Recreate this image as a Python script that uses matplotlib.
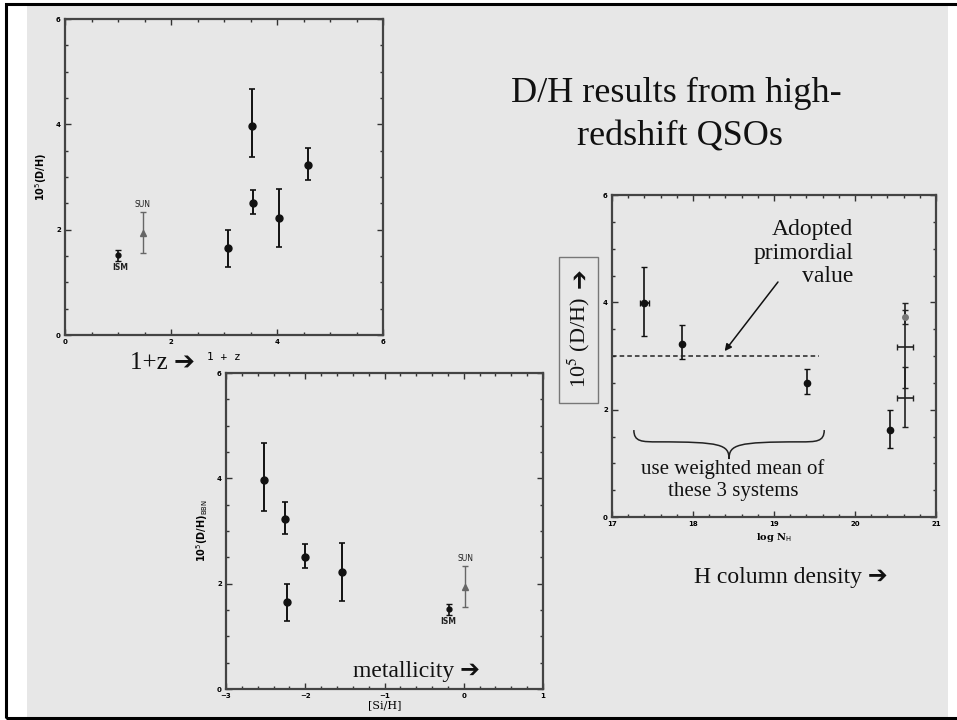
import numpy as np
import matplotlib.pyplot as plt
from matplotlib.patches import Rectangle, PathPatch
from matplotlib.path import Path
from matplotlib.ticker import MultipleLocator

W, H = 957, 720

# QSO absorbers: D/H (x1e-5) with error range
dh = [1.65, 3.97, 2.51, 2.22, 3.23]
dh_lo = [1.30, 3.38, 2.30, 1.68, 2.95]
dh_hi = [2.00, 4.67, 2.75, 2.78, 3.55]
one_plus_z = [3.08, 3.52, 3.54, 4.03, 4.58]
si_h = [-2.23, -2.52, -2.00, -1.53, -2.26]

# local references: ISM and SUN
ism_dh, ism_lo, ism_hi = 1.51, 1.41, 1.61
sun_dh, sun_lo, sun_hi = 1.93, 1.55, 2.33
ism_z, sun_z = 1.00, 1.47
ism_si, sun_si = -0.19, 0.01

# right panel: D/H vs log N_H
log_nh = [17.40, 17.86, 19.41, 20.43]
dh3 = [3.98, 3.23, 2.50, 1.62]
dh3_lo = [3.38, 2.95, 2.29, 1.28]
dh3_hi = [4.66, 3.57, 2.75, 2.00]
nh_xerr = [0.06, 0.0, 0.0, 0.0]
dla_nh = [20.62, 20.62, 20.62]
dla_dh = [3.17, 2.22, 3.73]
dla_lo = [2.40, 1.68, 3.60]
dla_hi = [3.99, 2.80, 3.85]
dla_xerr = [0.10, 0.10, 0.0]
primordial = 3.0

SERIF = ['Liberation Serif', 'DejaVu Serif']
SLIDE = ['Liberation Serif', 'DejaVu Sans']
BG = '#e7e7e7'


def px(l, t, r, b):
    return [l / W, 1 - b / H, (r - l) / W, (b - t) / H]


def ftext(x, y, s, **kw):
    fig.text(x / W, 1 - y / H, s, **kw)


def style_axes(ax, xlim, ylim, xmaj, xmin):
    ax.set_xlim(*xlim)
    ax.set_ylim(*ylim)
    ax.set_facecolor('none')
    ax.xaxis.set_major_locator(MultipleLocator(xmaj))
    ax.xaxis.set_minor_locator(MultipleLocator(xmin))
    ax.yaxis.set_major_locator(MultipleLocator(2))
    ax.yaxis.set_minor_locator(MultipleLocator(0.5))
    ax.tick_params(which='both', direction='in', top=True, right=True,
                   color='#333', width=1, labelsize=5, pad=3)
    ax.tick_params(which='major', length=4)
    ax.tick_params(which='minor', length=2.5)
    for lab in ax.get_xticklabels() + ax.get_yticklabels():
        lab.set_fontweight('bold')
    for sp in ax.spines.values():
        sp.set_color('#444')
        sp.set_linewidth(1.6)


def err(ax, x, y, lo, hi, **kw):
    y = np.asarray(y)
    yerr = [y - np.asarray(lo), np.asarray(hi) - y]
    ax.errorbar(x, y, yerr=yerr, **kw)


fig = plt.figure(figsize=(W / 100, H / 100), dpi=100)
fig.patch.set_facecolor('white')
fig.patches.append(Rectangle((27 / W, 1 / H), (948 - 27) / W, (715 - 1) / H,
                             transform=fig.transFigure, fc=BG, ec='none', zorder=-5))
fig.patches.append(Rectangle((6 / W, 2 / H), (W + 5) / W, (H - 6) / H,
                             transform=fig.transFigure, fc='none', ec='black',
                             lw=2.2, zorder=-4))

pt = dict(fmt='o', color='#111', ms=5, capsize=2, elinewidth=1.4, capthick=1.2)
ism = dict(fmt='o', color='#111', ms=3.5, capsize=2, elinewidth=1.2, capthick=1)
sun = dict(fmt='^', color='#666', ms=4, capsize=2, elinewidth=1.0, capthick=1)
small = dict(fontsize=5.5, fontweight='bold', color='#222', ha='center')

# --- panel 1: D/H vs 1+z
ax1 = fig.add_axes(px(65, 19, 383, 335))
style_axes(ax1, (0, 6), (0, 6), 2, 0.5)
err(ax1, one_plus_z, dh, dh_lo, dh_hi, **pt)
err(ax1, [ism_z], [ism_dh], [ism_lo], [ism_hi], **ism)
err(ax1, [sun_z], [sun_dh], [sun_lo], [sun_hi], **sun)
ax1.text(ism_z + 0.05, ism_lo - 0.05, 'ISM', va='top', **small)
ax1.text(sun_z, sun_hi + 0.07, 'SUN', va='bottom', **dict(small, fontweight='normal'))
ax1.set_ylabel('10$^5$(D/H)', fontsize=7, fontweight='bold', labelpad=5)
ax1.set_xlabel('1 + z', fontsize=8, family='DejaVu Sans Mono', labelpad=5)

# --- panel 2: D/H vs [Si/H]
ax2 = fig.add_axes(px(226, 373, 543, 689))
style_axes(ax2, (-3, 1), (0, 6), 1, 0.2)
err(ax2, si_h, dh, dh_lo, dh_hi, **pt)
err(ax2, [ism_si], [ism_dh], [ism_lo], [ism_hi], **ism)
err(ax2, [sun_si], [sun_dh], [sun_lo], [sun_hi], **sun)
ax2.text(ism_si, ism_lo - 0.05, 'ISM', va='top', **small)
ax2.text(sun_si + 0.01, sun_hi + 0.07, 'SUN', va='bottom', **dict(small, fontweight='normal'))
ax2.set_ylabel('10$^5$(D/H)$_{\\rm BBN}$', fontsize=7, fontweight='bold', labelpad=5)
ax2.set_xlabel('[Si/H]', fontsize=8, family='DejaVu Serif', labelpad=1)

# --- panel 3: D/H vs log N_H
ax3 = fig.add_axes(px(612, 195, 936, 517))
style_axes(ax3, (17, 21), (0, 6), 1, 0.2)
y3 = np.asarray(dh3)
ax3.errorbar(log_nh, y3, xerr=nh_xerr, yerr=[y3 - np.asarray(dh3_lo), np.asarray(dh3_hi) - y3],
             fmt='o', color='#111', ms=4.5, capsize=2, elinewidth=1.2, capthick=1)
yd = np.asarray(dla_dh)
ax3.errorbar(dla_nh, yd, xerr=dla_xerr, yerr=[yd - np.asarray(dla_lo), np.asarray(dla_hi) - yd],
             fmt='none', color='#222', capsize=2, elinewidth=1.2, capthick=1)
ax3.plot(dla_nh[2], dla_dh[2], 'o', color='#777', ms=4)
ax3.plot([17, 19.55], [primordial, primordial], ls=(0, (3, 2)), color='#222', lw=1.1)
ax3.annotate('', xy=(18.37, 3.05), xytext=(19.07, 4.42),
             arrowprops=dict(arrowstyle='-|>', color='#111', lw=1.1, mutation_scale=10))
ax3.text(19.98, 5.55, 'Adopted\nprimordial\nvalue', ha='right', va='top',
         family=SERIF, fontsize=17, linespacing=1.15, color='#111')

# curly brace under the three low-N_H systems
x0, x1, ytop, ybot = 17.27, 19.62, 1.62, 1.08
xm = (x0 + x1) / 2
ymid = (ytop + ybot) / 2 + 0.05
verts = [(x0, ytop), (x0, ymid), (x0 + 0.1, ymid), (x0 + 0.3, ymid),
         (xm - 0.1, ymid), (xm, ymid - 0.05), (xm, ybot),
         (xm, ymid - 0.05), (xm + 0.1, ymid), (x1 - 0.3, ymid),
         (x1 - 0.1, ymid), (x1, ymid), (x1, ytop)]
codes = [Path.MOVETO, Path.CURVE4, Path.CURVE4, Path.LINETO,
         Path.CURVE4, Path.CURVE4, Path.CURVE4,
         Path.CURVE4, Path.CURVE4, Path.LINETO,
         Path.CURVE4, Path.CURVE4, Path.CURVE4]
ax3.add_patch(PathPatch(Path(verts, codes), fc='none', ec='#222', lw=1.1))
ax3.text(xm + 0.05, 1.08, 'use weighted mean of\nthese 3 systems', ha='center', va='top',
         family=SERIF, fontsize=15, linespacing=1.2, color='#111')
ax3.set_xlabel('log N$_{\\rm H}$', fontsize=7, family='DejaVu Serif', fontweight='bold', labelpad=3)

# --- slide texts
ftext(676, 93, 'D/H results from high-', ha='center', va='center', family=SERIF,
      fontsize=26, color='#111')
ftext(680, 137, 'redshift QSOs', ha='center', va='center', family=SERIF,
      fontsize=26, color='#111')
ftext(163, 363, '1+z ➔', ha='center', va='center', family=SLIDE, fontsize=18, color='#111')
ftext(416, 672, 'metallicity ➔', ha='center', va='center', family=SLIDE, fontsize=17, color='#111')
ftext(791, 577, 'H column density ➔', ha='center', va='center', family=SLIDE, fontsize=17, color='#111')

# boxed y label of the right panel
fig.patches.append(Rectangle((559 / W, 1 - 403 / H), 39 / W, 146 / H,
                             transform=fig.transFigure, fc='none', ec='#777', lw=1))
ftext(579, 342, '10$^5$ (D/H)', ha='center', va='center', rotation=90, family=SERIF,
      fontsize=16, color='#111', math_fontfamily='stix')
ftext(579, 278, '➔', ha='center', va='center', rotation=90, family='DejaVu Sans',
      fontsize=17, color='#111')

fig.savefig('out.png', dpi=100, facecolor=fig.get_facecolor())
